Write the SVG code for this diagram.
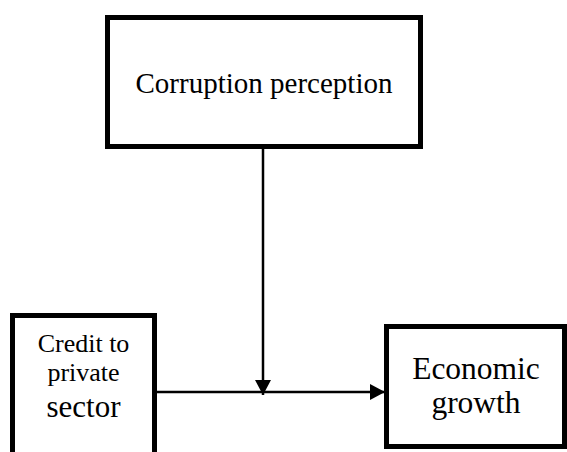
<svg xmlns="http://www.w3.org/2000/svg" width="567" height="452" viewBox="0 0 567 452">
<defs>
<style>
.box{fill:#fff;stroke:#000;stroke-width:5}
.c{stroke:#000;stroke-width:2.5;fill:none}
text{font-family:"Liberation Serif",serif !important}
</style>
<marker id="ah" markerUnits="userSpaceOnUse" markerWidth="16" markerHeight="16" viewBox="0 0 15 16" refX="15" refY="8" orient="auto">
<path d="M0,0 L15,8 L0,16 Z" fill="#000"/>
</marker>
</defs>
<rect width="567" height="452" fill="#fff"/>
<g id="corruption">
<rect class="box" x="107.5" y="17.5" width="313" height="129"/>
<text x="264" y="93" font-size="29" font-family="Liberation Serif" text-anchor="middle">Corruption perception</text>
</g>
<g id="credit">
<rect class="box" x="12.5" y="315.5" width="142" height="150"/>
<text x="83.5" y="352" font-size="26" font-family="Liberation Serif" text-anchor="middle">Credit to</text>
<text x="83.5" y="381" font-size="26" font-family="Liberation Serif" text-anchor="middle">private</text>
<text x="83.5" y="417" font-size="31" font-family="Liberation Serif" text-anchor="middle">sector</text>
</g>
<g id="growth">
<rect class="box" x="386.5" y="326.5" width="178" height="120"/>
<text x="476" y="379" font-size="31.5" font-family="Liberation Serif" text-anchor="middle">Economic</text>
<text x="476" y="413" font-size="31.5" font-family="Liberation Serif" text-anchor="middle">growth</text>
</g>
<g id="connectors">
<line class="c" x1="157" y1="392" x2="385" y2="392" marker-end="url(#ah)"/>
<line class="c" x1="263" y1="149" x2="263" y2="395" marker-end="url(#ah)"/>
</g>
</svg>
